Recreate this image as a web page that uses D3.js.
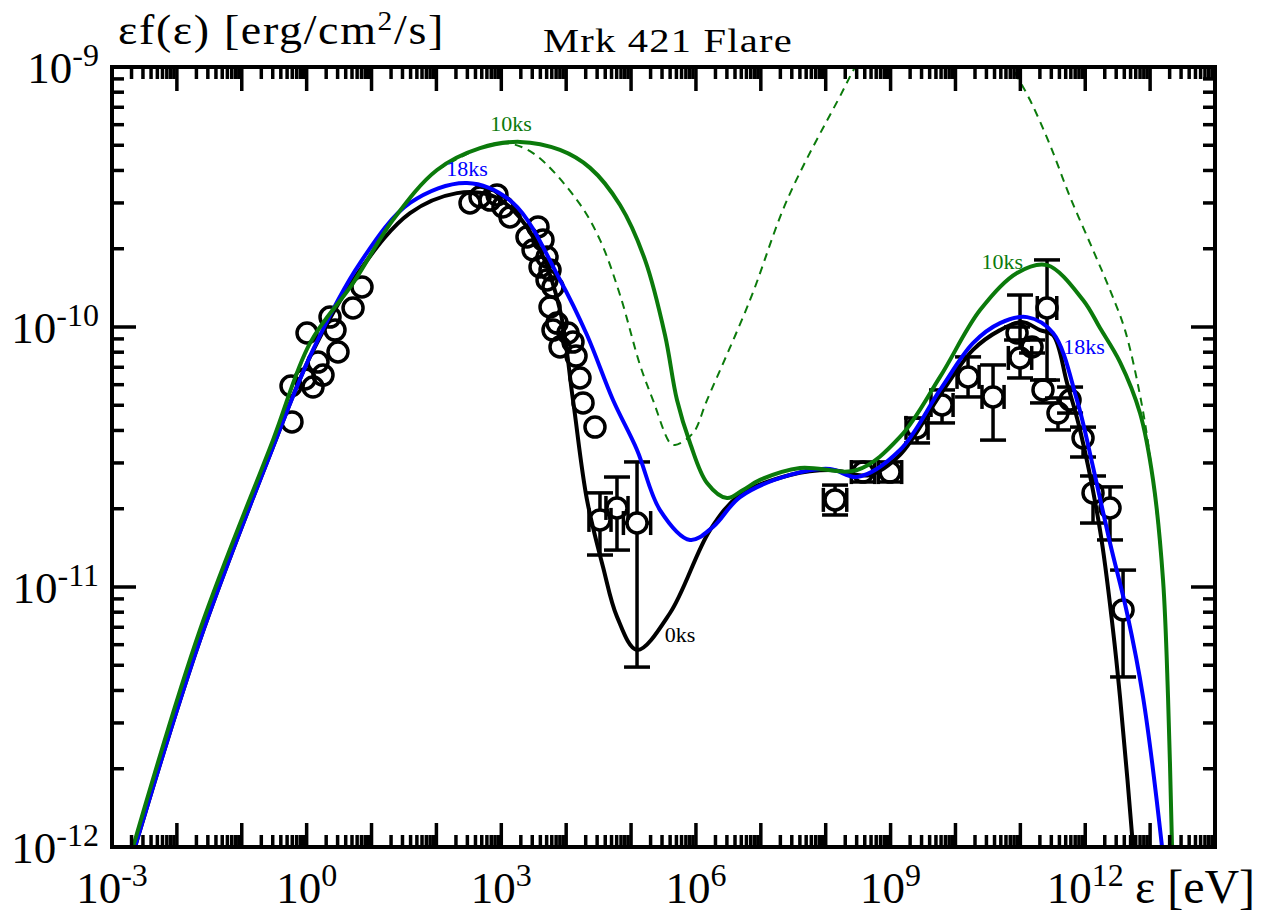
<!DOCTYPE html>
<html>
<head>
<meta charset="utf-8">
<script src="https://cdn.jsdelivr.net/npm/d3@7"></script>
<style>
body { margin: 0; background: #fff; }
svg { display: block; }
</style>
</head>
<body>
<script>
// all values are log10: energy in eV, flux eps*f(eps) in erg/cm^2/s

// model curves
var curve0ksX = [-2.645, -1.644, -0.519, 0.052, 0.822, 1.593, 2.317, 2.826, 3.181, 3.597, 3.905, 4.105, 4.321, 4.568, 4.784, 5.092, 5.601, 6.217, 6.680, 7.450, 8.067, 8.683, 9.145, 9.762, 10.270, 10.687, 11.026, 11.303, 11.504, 11.719, 11.920, 12.228, 12.428, 12.536, 12.737, 12.85];
var curve0ksY = [-12.0, -11.204, -10.462, -10.115, -9.781, -9.562, -9.485, -9.492, -9.550, -9.704, -9.935, -10.281, -10.665, -10.923, -11.115, -11.242, -11.100, -10.781, -10.646, -10.569, -10.550, -10.569, -10.492, -10.262, -10.088, -10.012, -9.981, -10.012, -10.031, -10.215, -10.396, -10.781, -11.165, -11.423, -12.0, -12.4];

var curve18ksX = [-2.645, -1.644, -0.519, 0.098, 0.822, 1.593, 2.472, 3.181, 3.905, 4.321, 4.722, 5.092, 5.446, 5.909, 6.263, 6.680, 7.450, 8.067, 8.483, 9.145, 9.762, 10.270, 10.687, 11.103, 11.504, 11.873, 12.120, 12.382, 12.644, 12.891, 13.184, 13.3];
var curve18ksY = [-12.0, -11.204, -10.462, -10.088, -9.754, -9.523, -9.446, -9.523, -9.819, -10.031, -10.281, -10.473, -10.704, -10.819, -10.769, -10.654, -10.569, -10.546, -10.577, -10.473, -10.242, -10.062, -9.985, -9.962, -10.023, -10.281, -10.538, -10.831, -11.100, -11.423, -12.0, -12.3];

var curve10ksX = [-2.676, -1.644, -0.519, 0.052, 0.715, 1.331, 2.009, 2.672, 3.289, 3.905, 4.368, 4.830, 5.215, 5.523, 5.708, 5.909, 6.171, 6.479, 6.726, 6.988, 7.604, 8.483, 9.145, 9.762, 10.379, 10.949, 11.411, 11.966, 12.228, 12.536, 12.844, 13.045, 13.199, 13.276, 13.338, 13.37];
var curve10ksY = [-12.0, -11.165, -10.435, -10.062, -9.831, -9.588, -9.396, -9.312, -9.288, -9.319, -9.388, -9.531, -9.742, -10.031, -10.281, -10.446, -10.600, -10.658, -10.627, -10.588, -10.542, -10.550, -10.423, -10.192, -9.935, -9.792, -9.762, -9.896, -10.004, -10.135, -10.331, -10.588, -10.973, -11.423, -12.0, -12.3];

// 10 ks without absorption (dashed)
var curve10ksDashX = [2.009, 2.672, 3.057, 3.489, 4.167, 4.521, 4.830, 5.138, 5.338, 5.601, 5.678, 5.955, 6.171, 6.834, 7.404, 8.190, 8.620, 9.608, 10.687, 10.872, 11.149, 11.457, 11.766, 12.120, 12.382, 12.613, 12.844, 12.998, 13.199, 13.276, 13.338];
var curve10ksDashY = [-9.396, -9.312, -9.292, -9.331, -9.512, -9.665, -9.877, -10.146, -10.281, -10.446, -10.454, -10.408, -10.281, -9.896, -9.512, -9.127, -8.935, -8.665, -8.896, -9.0, -9.127, -9.300, -9.500, -9.704, -9.858, -10.012, -10.262, -10.5, -10.973, -11.423, -12.0];

// optical / UV / X-ray points without error bars
var obsX = [-0.226, -0.241, -0.025, 0.006, 0.175, 0.252, 0.098, 0.360, 0.437, 0.483, 0.715, 0.853,
    2.518, 2.672, 2.826, 2.934, 3.026, 3.134, 3.396, 3.489, 3.566, 3.643, 3.705, 3.597, 3.751, 3.705, 3.797, 3.751, 3.859, 3.797, 3.905, 4.028, 4.105, 4.152, 4.213, 4.260, 4.444];
var obsY = [-10.365, -10.227, -10.200, -10.023, -10.135, -10.185, -10.231, -9.962, -10.012, -10.096, -9.927, -9.846,
    -9.523, -9.500, -9.512, -9.492, -9.538, -9.577, -9.654, -9.704, -9.615, -9.665, -9.731, -9.769, -9.781, -9.819, -9.846, -9.923, -9.985, -10.012, -10.077, -10.023, -10.058, -10.112, -10.196, -10.292, -10.385];

// points with error bars (hard X-ray, GeV, TeV)
var errX  = [4.521, 4.783, 5.092, 8.144, 8.575, 8.991, 9.408, 9.793, 10.194, 10.579, 10.949, 10.995, 11.180, 11.411, 11.349, 11.580, 11.766, 11.966, 12.120, 12.382, 12.583];
var errY  = [-10.742, -10.696, -10.754, -10.665, -10.558, -10.558, -10.388, -10.300, -10.192, -10.269, -10.023, -10.119, -10.077, -9.927, -10.242, -10.331, -10.281, -10.427, -10.638, -10.696, -11.088];
var errHi = [-10.638, -10.577, -10.519, -10.608, -10.519, -10.519, -10.350, -10.242, -10.115, -10.146, -10.000, -9.877, -10.050, -9.742, -10.204, -10.273, -10.231, -10.385, -10.573, -10.615, -10.935];
var errLo = [-10.877, -10.858, -11.308, -10.723, -10.596, -10.596, -10.446, -10.369, -10.269, -10.435, -10.050, -10.196, -10.100, -10.204, -10.292, -10.396, -10.331, -10.500, -10.754, -10.819, -11.346];
var errDx = [0.17, 0.17, 0.21, 0.18, 0.18, 0.18, 0.17, 0.17, 0.17, 0.17, 0, 0.18, 0, 0.15, 0, 0, 0, 0, 0, 0, 0];

// axis tick labels (exponents)
var xLabelExp = [-3, 0, 3, 6, 9, 12];
var yLabelExp = [-12, -11, -10, -9];

var curveLabels = [
    {text: "10ks", x: 2.83, y: -9.245, color: "#0b7a0b"},
    {text: "18ks", x: 2.15, y: -9.42, color: "#0000ff"},
    {text: "0ks", x: 5.52, y: -11.21, color: "#000"},
    {text: "10ks", x: 10.40, y: -9.775, color: "#0b7a0b"},
    {text: "18ks", x: 11.66, y: -10.105, color: "#0000ff"}
];

function drawChart() {
    var width = 1278, height = 915;
    var mLeft = 112, mRight = 1215, mTop = 67, mBottom = 847;
    var serif = "'Liberation Serif', 'Times New Roman', serif";

    var x = d3.scaleLog().domain([1e-3, 1e14]).range([mLeft, mRight]);
    var y = d3.scaleLog().domain([1e-12, 1e-9]).range([mBottom, mTop]);
    var px = v => x(Math.pow(10, v));
    var py = v => y(Math.pow(10, v));

    var svg = d3.select("body").append("svg")
        .attr("width", width)
        .attr("height", height)
        .attr("viewBox", [0, 0, width, height]);

    svg.append("defs").append("clipPath")
        .attr("id", "clip")
        .append("rect")
        .attr("x", mLeft).attr("y", mTop)
        .attr("width", mRight - mLeft).attr("height", mBottom - mTop);

    var plot = svg.append("g").attr("clip-path", "url(#clip)");

    // data: error bars first, then open circles
    var r = 10;
    var bars = plot.append("g").attr("stroke", "#000").attr("stroke-width", 3.5).attr("fill", "none");
    errX.forEach((ex, i) => {
        var cx = px(ex), cy = py(errY[i]);
        var yh = py(errHi[i]), yl = py(errLo[i]);
        if (cy - yh > r) {
            bars.append("line").attr("x1", cx).attr("x2", cx).attr("y1", cy - r).attr("y2", yh);
        }
        bars.append("line").attr("x1", cx - 13).attr("x2", cx + 13).attr("y1", yh).attr("y2", yh);
        if (yl - cy > r) {
            bars.append("line").attr("x1", cx).attr("x2", cx).attr("y1", cy + r).attr("y2", yl);
        }
        bars.append("line").attr("x1", cx - 13).attr("x2", cx + 13).attr("y1", yl).attr("y2", yl);
        if (errDx[i] > 0) {
            var xl = px(ex - errDx[i]), xr = px(ex + errDx[i]);
            bars.append("line").attr("x1", xl).attr("x2", cx - r).attr("y1", cy).attr("y2", cy);
            bars.append("line").attr("x1", cx + r).attr("x2", xr).attr("y1", cy).attr("y2", cy);
            bars.append("line").attr("x1", xl).attr("x2", xl).attr("y1", cy - 12).attr("y2", cy + 12);
            bars.append("line").attr("x1", xr).attr("x2", xr).attr("y1", cy - 12).attr("y2", cy + 12);
        }
    });

    var pts = obsX.map((v, i) => [v, obsY[i]]).concat(errX.map((v, i) => [v, errY[i]]));
    plot.append("g")
        .selectAll("circle")
        .data(pts)
        .join("circle")
        .attr("cx", d => px(d[0]))
        .attr("cy", d => py(d[1]))
        .attr("r", r)
        .attr("fill", "none")
        .attr("stroke", "#000")
        .attr("stroke-width", 3.5);

    // model curves
    var line = d3.line()
        .x(d => px(d[0]))
        .y(d => py(d[1]))
        .curve(d3.curveCatmullRom.alpha(0.5));

    function drawCurve(xs, ys, color, w, dash) {
        plot.append("path")
            .datum(xs.map((v, i) => [v, ys[i]]))
            .attr("d", line)
            .attr("fill", "none")
            .attr("stroke", color)
            .attr("stroke-width", w)
            .attr("stroke-linejoin", "round")
            .attr("stroke-dasharray", dash || null);
    }
    drawCurve(curve0ksX, curve0ksY, "#000", 4);
    drawCurve(curve18ksX, curve18ksY, "#0000ff", 4);
    drawCurve(curve10ksDashX, curve10ksDashY, "#0b7a0b", 2, "8,6");
    drawCurve(curve10ksX, curve10ksY, "#0b7a0b", 4);

    svg.append("g")
        .selectAll("text")
        .data(curveLabels)
        .join("text")
        .attr("x", d => px(d.x))
        .attr("y", d => py(d.y))
        .attr("fill", d => d.color)
        .attr("font-family", serif)
        .attr("font-size", 22)
        .text(d => d.text);

    // ticks, pointing inward on all four sides
    var xMajor = d3.range(-3, 15).map(e => Math.pow(10, e));
    var xMinor = [];
    d3.range(-3, 14).forEach(e => d3.range(2, 10).forEach(k => xMinor.push(k * Math.pow(10, e))));
    var yMajor = d3.range(-12, -8).map(e => Math.pow(10, e));
    var yMinor = [];
    d3.range(-12, -9).forEach(e => d3.range(2, 10).forEach(k => yMinor.push(k * Math.pow(10, e))));

    var ticks = svg.append("g").attr("stroke", "#000").attr("stroke-width", 3.5);
    function xTicks(vals, len) {
        vals.forEach(v => {
            ticks.append("line").attr("x1", x(v)).attr("x2", x(v)).attr("y1", mBottom).attr("y2", mBottom - len);
            ticks.append("line").attr("x1", x(v)).attr("x2", x(v)).attr("y1", mTop).attr("y2", mTop + len);
        });
    }
    function yTicks(vals, len) {
        vals.forEach(v => {
            ticks.append("line").attr("y1", y(v)).attr("y2", y(v)).attr("x1", mLeft).attr("x2", mLeft + len);
            ticks.append("line").attr("y1", y(v)).attr("y2", y(v)).attr("x1", mRight).attr("x2", mRight - len);
        });
    }
    xTicks(xMajor, 24);
    xTicks(xMinor, 12);
    yTicks(yMajor, 24);
    yTicks(yMinor, 12);

    svg.append("rect")
        .attr("x", mLeft).attr("y", mTop)
        .attr("width", mRight - mLeft).attr("height", mBottom - mTop)
        .attr("fill", "none")
        .attr("stroke", "#000")
        .attr("stroke-width", 4);

    // tick labels
    function powLabel(sel, e) {
        sel.append("tspan").text("10");
        sel.append("tspan").attr("dy", -17).attr("font-size", 32).text(String(e));
    }
    svg.append("g")
        .selectAll("text")
        .data(xLabelExp)
        .join("text")
        .attr("x", d => x(Math.pow(10, d)))
        .attr("y", 903)
        .attr("text-anchor", "middle")
        .attr("font-family", serif)
        .attr("font-size", 45)
        .each(function(d) { powLabel(d3.select(this), d); });

    svg.append("g")
        .selectAll("text")
        .data(yLabelExp)
        .join("text")
        .attr("x", 99)
        .attr("y", d => y(Math.pow(10, d)) + 16)
        .attr("text-anchor", "end")
        .attr("font-family", serif)
        .attr("font-size", 45)
        .each(function(d) { powLabel(d3.select(this), d); });

    // titles; the original type is wider than Liberation Serif, so stretch to its width
    function stretch(t, x0, y0, w) {
        var bw = t.node().getBBox().width;
        t.attr("transform", `translate(${x0},${y0}) scale(${w / bw},1)`);
    }
    var yt = svg.append("text")
        .attr("font-family", serif)
        .attr("font-size", 42)
        .attr("letter-spacing", 1.5);
    yt.append("tspan").text("\u03b5f(\u03b5) [erg/cm");
    yt.append("tspan").attr("dy", -14).attr("font-size", 27).text("2");
    yt.append("tspan").attr("dy", 14).text("/s]");
    stretch(yt, 118, 44, 327);

    svg.append("text")
        .attr("x", 1135).attr("y", 903)
        .attr("font-family", serif)
        .attr("font-size", 48)
        .text("\u03b5 [eV]");

    var tt = svg.append("text")
        .attr("font-family", serif)
        .attr("font-size", 33)
        .attr("letter-spacing", 1)
        .text("Mrk 421 Flare");
    stretch(tt, 543, 52, 250);
}

drawChart();
</script>
</body>
</html>
